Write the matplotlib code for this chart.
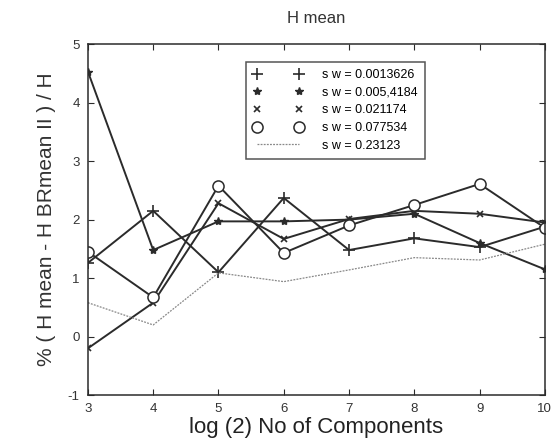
import matplotlib.pyplot as plt
from matplotlib.lines import Line2D

plt.rcParams['font.family'] = ['Liberation Sans', 'DejaVu Sans']
plt.rcParams['axes.unicode_minus'] = False

# log(2) number of components
n_comp = [3, 4, 5, 6, 7, 8, 9, 10]

# % (H mean - H BRmean II) / H for each smoothing width
sw_labels = ["s w = 0.0013626", "s w = 0.005,4184", "s w = 0.021174",
             "s w = 0.077534", "s w = 0.23123"]
err_sw1 = [1.26, 2.15, 1.10, 2.37, 1.48, 1.68, 1.53, 1.88]
err_sw2 = [4.53, 1.48, 1.97, 1.97, 2.00, 2.10, 1.60, 1.15]
err_sw3 = [-0.20, 0.58, 2.28, 1.67, 2.01, 2.15, 2.10, 1.95]
err_sw4 = [1.45, 0.67, 2.58, 1.43, 1.90, 2.25, 2.61, 1.86]
err_sw5 = [0.58, 0.20, 1.09, 0.94, 1.14, 1.35, 1.31, 1.58]

ink = "#2b2b2b"

fig = plt.figure(figsize=(5.6, 4.41), dpi=100)
ax = fig.add_axes([0.157, 0.104, 0.816, 0.796])

ax.plot(n_comp, err_sw1, color=ink, lw=1.4, marker="+", ms=8, mew=1.2)
ax.plot(n_comp, err_sw2, color=ink, lw=1.4, marker="*", ms=6)
ax.plot(n_comp, err_sw3, color=ink, lw=1.4, marker="x", ms=4, mew=1.2)
ax.plot(n_comp, err_sw4, color=ink, lw=1.4, marker="o", ms=8, mfc="white", mew=1.1)
ax.plot(n_comp, err_sw5, color="#888888", lw=0.9, ls=(0, (1.5, 1)))

ax.set_xlim(3, 10)
ax.set_ylim(-1, 5)
ax.set_xticks(n_comp)
ax.set_yticks(range(-1, 6))
ax.tick_params(direction="in", top=True, right=True, length=4, labelsize=9.5,
               color=ink, labelcolor="#333333", pad=6)
for s in ax.spines.values():
    s.set_color(ink)
    s.set_linewidth(1.1)

ax.set_title("H mean", fontsize=12, color="#333333", pad=15)
ax.set_xlabel("log (2) No of Components", fontsize=16, color="#222222", labelpad=1)
ax.set_ylabel("% ( H mean - H BRmean II ) / H", fontsize=15, color="#333333", labelpad=8)

handles = [
    Line2D([], [], ls="none", color=ink, marker="+", ms=8, mew=1.2),
    Line2D([], [], ls="none", color=ink, marker="*", ms=6),
    Line2D([], [], ls="none", color=ink, marker="x", ms=4, mew=1.2),
    Line2D([], [], ls="none", color=ink, marker="o", ms=8, mfc="white", mew=1.1),
    Line2D([], [], color="#888888", lw=0.9, ls=(0, (1.5, 1))),
]
leg = ax.legend(handles, sw_labels, loc="upper left", bbox_to_anchor=(0.345, 0.95),
                numpoints=2, fontsize=9, frameon=True, fancybox=False,
                handlelength=4.0, handletextpad=1.5, labelspacing=0.45,
                borderpad=0.6, borderaxespad=0)
leg.get_frame().set_edgecolor(ink)
leg.get_frame().set_linewidth(1.1)

fig.savefig("out.png", dpi=100)
